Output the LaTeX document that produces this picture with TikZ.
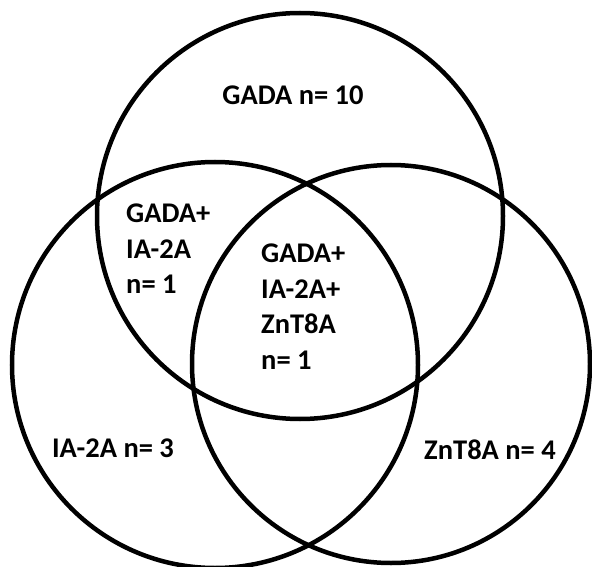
\documentclass[tikz,border=0pt]{standalone}
\usepackage{fontspec}
\setmainfont{Carlito}
\usetikzlibrary{positioning}

\begin{document}
\begin{tikzpicture}[
                x=1pt, y=-1pt,
                every node/.style={font=\fontsize{28.5}{35.5}\selectfont\bfseries, align=left, inner sep=0pt},
                ring/.style={draw, circle, line width=4.5pt, minimum size=#1}
            ]
            \useasboundingbox (0,0) rectangle (592,567);

            % Define circles
            \node[ring=406pt] (gadaRing) at (300,216) {};
            \node[ring=406pt] (iaRing) at (215,365) {};
            \node[ring=398pt] (zntRing) at (391,364) {};

            % Labels of the regions
            \node (gadaOnly) at (293,95) {GADA n= 10};
            \node[anchor=north west] (gadaIa) at (126,204) {GADA+\\IA-2A\\n= 1};
            \node[anchor=north west] (allThree) at (261,244) {GADA+\\IA-2A+\\ZnT8A\\n= 1};
            \node (iaOnly) at (113,448) {IA-2A n= 3};
            \node (zntOnly) at (490,450) {ZnT8A n= 4};

        \end{tikzpicture}
\end{document}
